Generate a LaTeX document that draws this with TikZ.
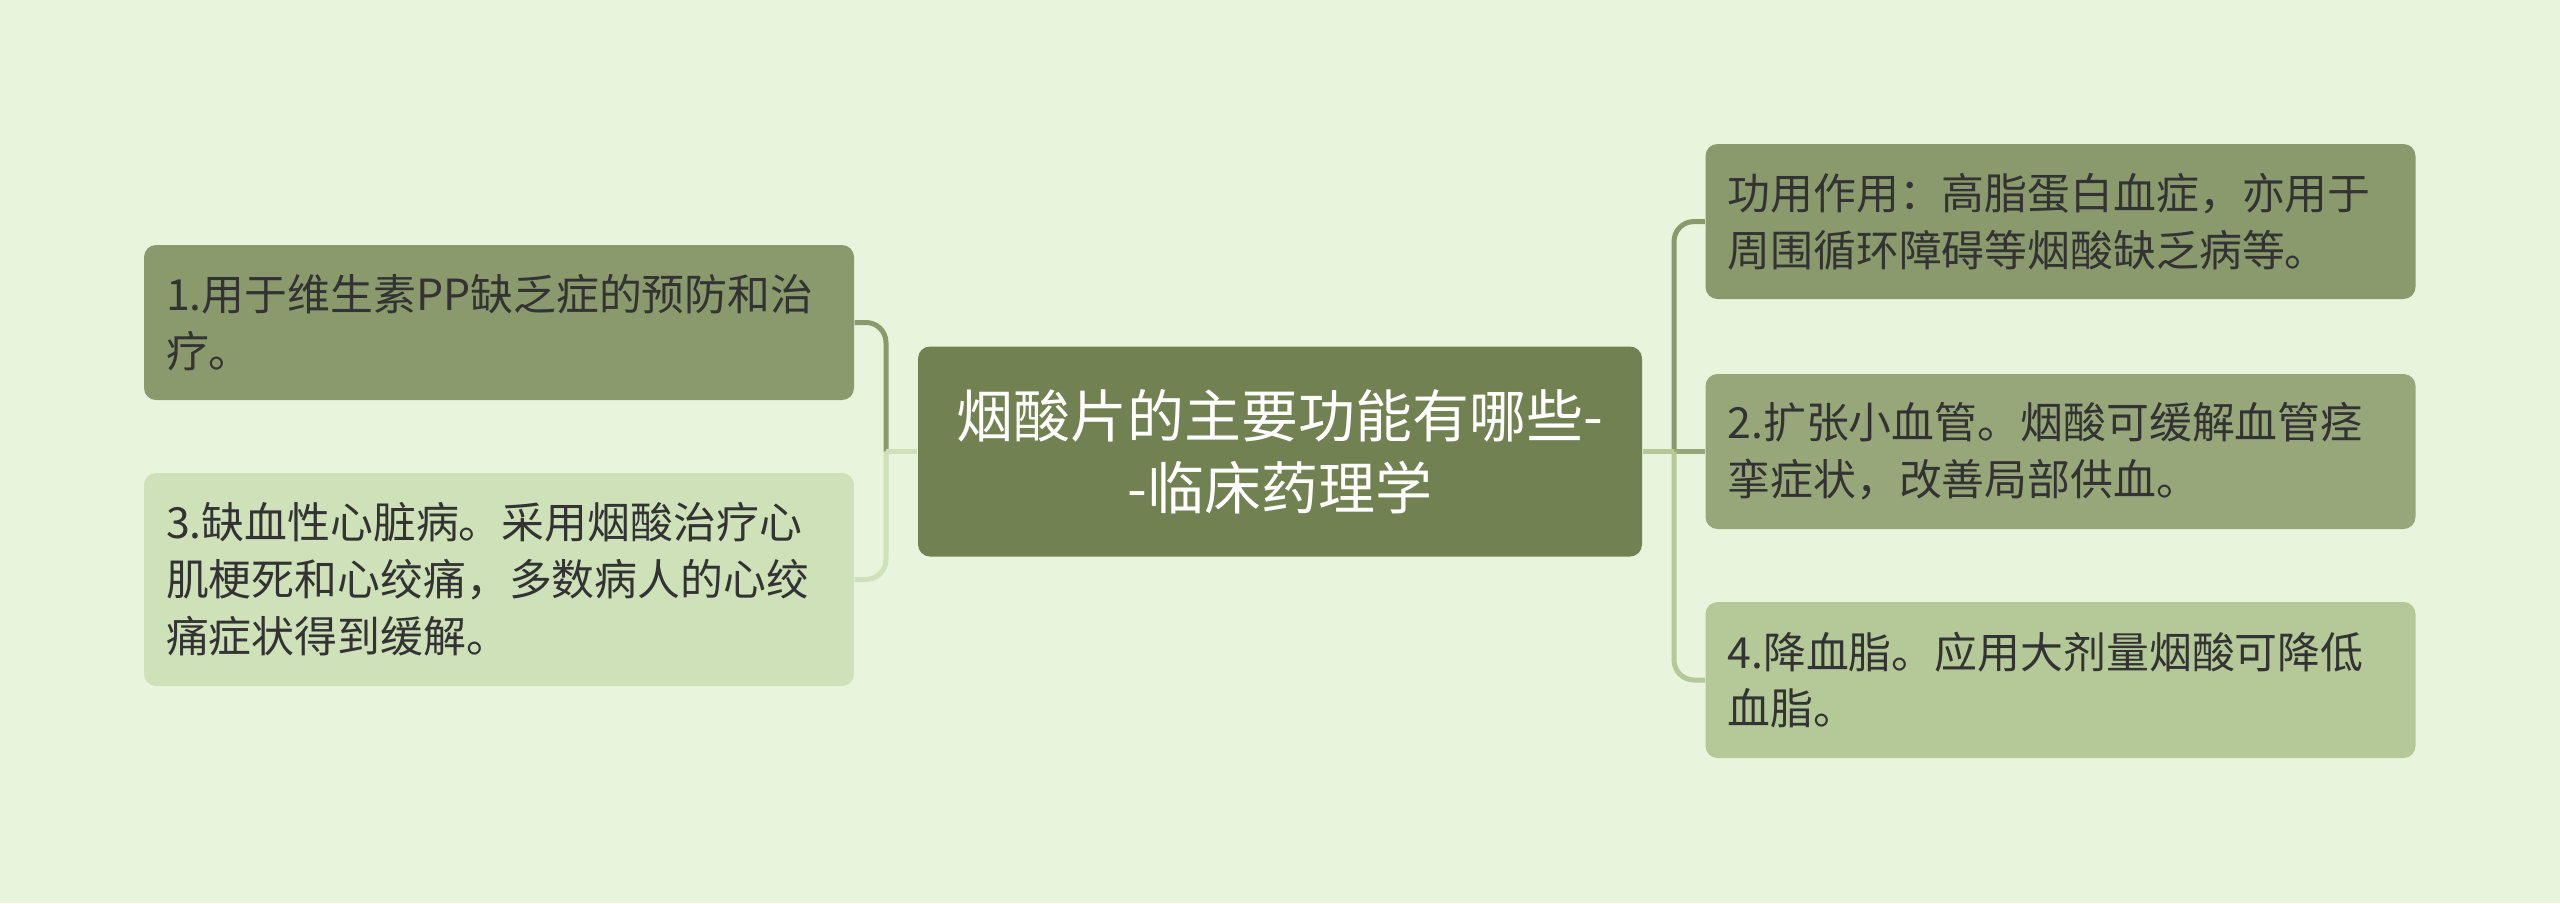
\documentclass[tikz,border=0pt]{standalone}
\usepackage{fontspec}
\setmainfont{Noto Sans CJK SC}
\definecolor{bgcol}{HTML}{E8F5DC}
\definecolor{topiccol}{HTML}{718152}
\definecolor{darkcol}{HTML}{8A9A6C}
\definecolor{midcol}{HTML}{97A77A}
\definecolor{lightcol}{HTML}{B4C898}
\definecolor{palecol}{HTML}{CFE1B9}
\definecolor{textcol}{HTML}{333333}
\begin{document}
\begin{tikzpicture}[
    topic/.style={rectangle, rounded corners=0.12cm, fill=topiccol, text=white,
      minimum width=7.24cm, minimum height=2.1cm, align=center,
      font=\fontsize{16.2pt}{20.5pt}\selectfont},
    leaf/.style={rectangle, rounded corners=0.12cm, text=textcol,
      text width=6.66cm, inner xsep=0.22cm, align=left,
      font=\fontsize{12.2pt}{16.2pt}\selectfont},
    link/.style={line width=0.05cm, rounded corners=0.2cm}
  ]
  \useasboundingbox[fill=bgcol] (0,0) rectangle (25.6,-9.03);

  \node[topic] (c) at (12.80,-4.515) {烟酸片的主要功能有哪些-\\-临床药理学};

  \node[leaf, fill=darkcol, minimum height=1.55cm] (l1) at (4.99,-3.225)
    {1.用于维生素PP缺乏症的预防和治\\疗。};
  \node[leaf, fill=palecol, minimum height=2.13cm] (l3) at (4.99,-5.795)
    {3.缺血性心脏病。采用烟酸治疗心\\肌梗死和心绞痛，多数病人的心绞\\痛症状得到缓解。};

  \node[leaf, fill=darkcol, minimum height=1.55cm] (r1) at (20.605,-2.215)
    {功用作用：高脂蛋白血症，亦用于\\周围循环障碍等烟酸缺乏病等。};
  \node[leaf, fill=midcol, minimum height=1.55cm] (r2) at (20.605,-4.515)
    {2.扩张小血管。烟酸可缓解血管痉\\挛症状，改善局部供血。};
  \node[leaf, fill=lightcol, minimum height=1.56cm] (r4) at (20.605,-6.80)
    {4.降血脂。应用大剂量烟酸可降低\\血脂。};

  \coordinate (jr) at (16.74,-4.515);
  \coordinate (jl) at (8.86,-4.515);

  % right branches
  \draw[link, darkcol] (jr) |- (r1.west);
  \draw[link, midcol] (jr) -- (r2.west);
  \draw[link, lightcol] (jr) |- (r4.west);
  \draw[link, lightcol] (c.east) -- (jr);

  % left branches
  \draw[link, darkcol] (jl) |- (l1.east);
  \draw[link, palecol] (jl) |- (l3.east);
  \draw[link, palecol] (c.west) -- (jl);
\end{tikzpicture}
\end{document}
